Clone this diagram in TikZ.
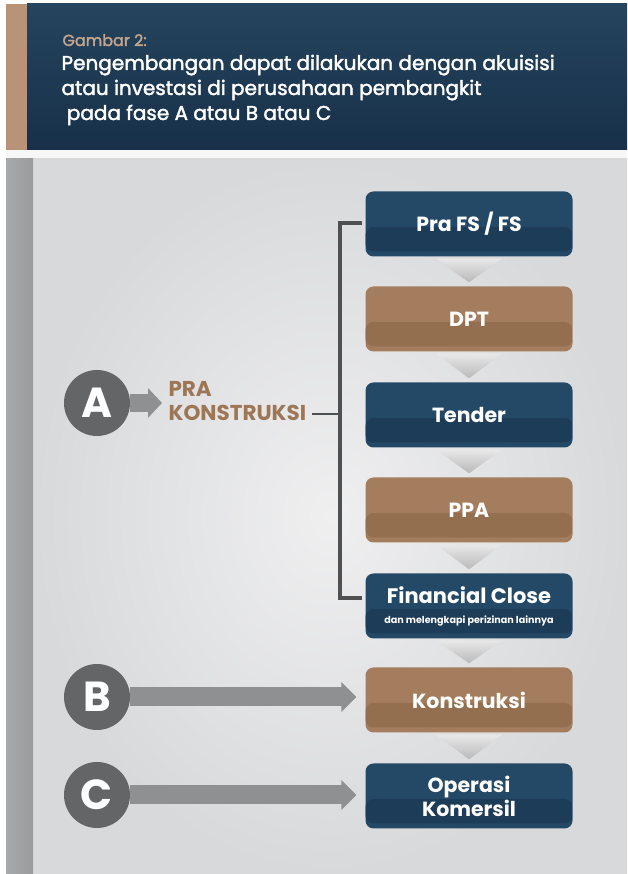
\documentclass[tikz,border=0pt]{standalone}
\usepackage{fontspec}
\setmainfont{Poppins}
\newfontfamily\popmed{Poppins}[FakeBold=2]
\usepackage{tikz}
\usetikzlibrary{arrows.meta,shapes,positioning}

\definecolor{navy}{HTML}{244967}
\definecolor{navydark}{HTML}{1D3C57}
\definecolor{tan}{HTML}{A37D5D}
\definecolor{tandark}{HTML}{946F4F}
\definecolor{headtop}{HTML}{25445D}
\definecolor{headbot}{HTML}{18304A}
\definecolor{headtan}{HTML}{B89377}
\definecolor{gambartan}{HTML}{C2A58C}
\definecolor{stripgray}{HTML}{A8A9AB}
\definecolor{bginner}{HTML}{EFEFF0}
\definecolor{bgouter}{HTML}{D8D9DB}
\definecolor{circgray}{HTML}{646567}
\definecolor{arrowgray}{HTML}{8F9092}
\definecolor{bracketgray}{HTML}{4F5052}
\definecolor{labelbrown}{HTML}{9C7655}

\begin{document}
\begin{tikzpicture}[x=1pt,y=1pt,
  phase/.style={rounded corners=8pt, minimum width=207pt, minimum height=65pt,
    text=white, align=center, font=\bfseries\fontsize{20.5}{24}\selectfont},
  navybox/.style={phase, fill=navy, path picture={
    \fill[navydark] ([yshift=-3pt]path picture bounding box.west) rectangle
      ([yshift=5pt]path picture bounding box.south east);}},
  tanbox/.style={phase, fill=tan, path picture={
    \fill[tandark] ([yshift=-3pt]path picture bounding box.west) rectangle
      ([yshift=5pt]path picture bounding box.south east);}},
  letter/.style={circle, fill=circgray, minimum size=66pt, inner sep=0pt,
    text=white, font=\bfseries\fontsize{42}{42}\selectfont},
  blockarrow/.style={arrowgray, line width=19pt,
    -{Triangle[width=29pt,length=15pt]}}]
\useasboundingbox (0,0) rectangle (627,874);

% header
\fill[white] (0,0) rectangle (627,874);
\shade[top color=headtop, bottom color=headbot] (27,724) rectangle (627,870);
\fill[headtan] (6,724) rectangle (27,870);
\node[anchor=base west, text=gambartan, font=\popmed\fontsize{16}{18}\selectfont]
  (gambar) at (59,828) {Gambar 2:};
\node[anchor=base west, text=white, align=left,
  font=\popmed\fontsize{20}{25}\selectfont] (title) at (58,754)
  {Pengembangan dapat dilakukan dengan akuisisi\\
   atau investasi di perusahaan pembangkit\\
   \ pada fase A atau B atau C};

% background
\fill[white!94!gray] (6,715) rectangle (627,724);
\shade[inner color=bginner, outer color=bgouter] (33,0) rectangle (627,715);
\shade[left color=stripgray, right color=stripgray!92!black] (6,0) rectangle (33,715);

% phases
\node[navybox] (prafs) at (469,650) {Pra FS / FS};
\node[tanbox] (dpt) at (469,555) {DPT};
\node[navybox] (tender) at (469,459) {Tender};
\node[tanbox] (ppa) at (469,364) {PPA};
\node[navybox] (fc) at (469,268) {{\fontsize{21}{22}\selectfont Financial Close}\\[-4pt]
  {\fontsize{9.6}{11}\selectfont dan melengkapi perizinan lainnya}};
\node[tanbox] (konstr) at (469,174) {Konstruksi};
\node[navybox] (opkom) at (469,78) {Operasi\\Komersil};

\foreach \u/\v in {prafs/dpt,dpt/tender,tender/ppa,ppa/fc,fc/konstr,konstr/opkom}
  \shade[top color=gray!18, bottom color=gray!55]
    ([xshift=-33pt,yshift=-2pt]\u.south) -- ([xshift=33pt,yshift=-2pt]\u.south)
    -- ([yshift=4pt]\v.north) -- cycle;

% bracket
\coordinate (brtop) at (340,651);
\coordinate (brbot) at (340,276);
\draw[bracketgray, line width=4.5pt, line cap=rect]
  (360,651) -- (brtop) -- (brbot) -- (360,276);

% A, B, C
\node[letter] (A) at (97,471) {A};
\node[letter] (B) at (97,177) {B};
\node[letter] (C) at (97,79) {C};

\node[anchor=west, text=labelbrown, align=left,
  font=\bfseries\fontsize{21.5}{24}\selectfont] (pra) at (165,473)
  {PRA\\KONSTRUKSI};
\coordinate (tick) at (312,460);
\draw[bracketgray, line width=1.5pt] (tick) -- (tick -| brtop);

\draw[blockarrow, line width=18pt, -{Triangle[width=29pt,length=14pt]},
  shorten >=3pt] (A) -- (pra.west |- A);
\draw[blockarrow, shorten >=9pt] (B) -- (konstr.west |- B);
\draw[blockarrow, shorten >=9pt] (C) -- (opkom.west |- C);
\end{tikzpicture}
\end{document}
